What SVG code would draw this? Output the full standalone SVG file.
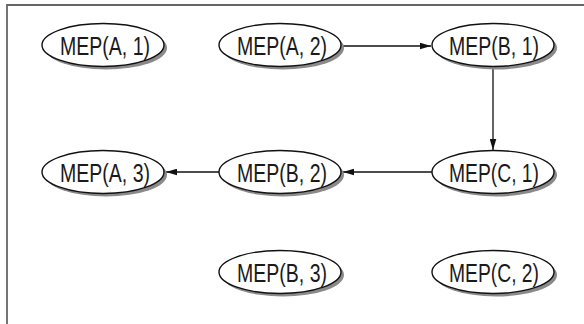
<svg xmlns="http://www.w3.org/2000/svg" width="584" height="324" viewBox="0 0 584 324">
<defs>
<style>
.shadow{fill:#8a8a8a;stroke:none}
.node{fill:#fff;stroke:#111;stroke-width:1.4}
.lbl{font-family:"Liberation Sans",Arial,sans-serif;font-size:25px;fill:#1a1a1a;text-anchor:middle}
.edge{stroke:#111;stroke-width:1.3;fill:none;marker-end:url(#ah)}
.frame{stroke:#666;stroke-width:1.8;fill:none}
</style>
<marker id="ah" viewBox="0 0 10 6" refX="10" refY="3" markerWidth="11" markerHeight="7" markerUnits="userSpaceOnUse" orient="auto">
<path d="M0,0 L10,3 L0,6 Z" fill="#111"/>
</marker>
</defs>
<rect width="584" height="324" fill="#fff"/>
<path class="frame" d="M7,324 V5 H584"/>
<g id="connectors">
<line class="edge" x1="342" y1="46" x2="431" y2="46"/>
<line class="edge" x1="493" y1="68" x2="493" y2="150"/>
<line class="edge" x1="432" y1="172" x2="343" y2="172"/>
<line class="edge" x1="219" y1="172" x2="166" y2="172"/>
</g>
<g id="A1"><ellipse class="shadow" cx="106" cy="48" rx="61" ry="21.5"/><ellipse class="node" cx="103" cy="45" rx="61" ry="21.5"/><text class="lbl" x="105" y="55" textLength="90" lengthAdjust="spacingAndGlyphs">MEP(A, 1)</text></g>
<g id="A2"><ellipse class="shadow" cx="283" cy="48" rx="61" ry="21.5"/><ellipse class="node" cx="280" cy="45" rx="61" ry="21.5"/><text class="lbl" x="282" y="55" textLength="90" lengthAdjust="spacingAndGlyphs">MEP(A, 2)</text></g>
<g id="B1"><ellipse class="shadow" cx="496" cy="48" rx="61" ry="21.5"/><ellipse class="node" cx="493" cy="45" rx="61" ry="21.5"/><text class="lbl" x="494" y="55" textLength="90" lengthAdjust="spacingAndGlyphs">MEP(B, 1)</text></g>
<g id="A3"><ellipse class="shadow" cx="106" cy="175" rx="61" ry="21.5"/><ellipse class="node" cx="103" cy="172" rx="61" ry="21.5"/><text class="lbl" x="105" y="182" textLength="90" lengthAdjust="spacingAndGlyphs">MEP(A, 3)</text></g>
<g id="B2"><ellipse class="shadow" cx="283" cy="175" rx="61" ry="21.5"/><ellipse class="node" cx="280" cy="172" rx="61" ry="21.5"/><text class="lbl" x="282" y="182" textLength="90" lengthAdjust="spacingAndGlyphs">MEP(B, 2)</text></g>
<g id="C1"><ellipse class="shadow" cx="496" cy="175" rx="61" ry="21.5"/><ellipse class="node" cx="493" cy="172" rx="61" ry="21.5"/><text class="lbl" x="494" y="182" textLength="90" lengthAdjust="spacingAndGlyphs">MEP(C, 1)</text></g>
<g id="B3"><ellipse class="shadow" cx="283" cy="275" rx="61" ry="21.5"/><ellipse class="node" cx="280" cy="272" rx="61" ry="21.5"/><text class="lbl" x="282" y="282" textLength="90" lengthAdjust="spacingAndGlyphs">MEP(B, 3)</text></g>
<g id="C2"><ellipse class="shadow" cx="496" cy="275" rx="61" ry="21.5"/><ellipse class="node" cx="493" cy="272" rx="61" ry="21.5"/><text class="lbl" x="494" y="282" textLength="90" lengthAdjust="spacingAndGlyphs">MEP(C, 2)</text></g>
</svg>
